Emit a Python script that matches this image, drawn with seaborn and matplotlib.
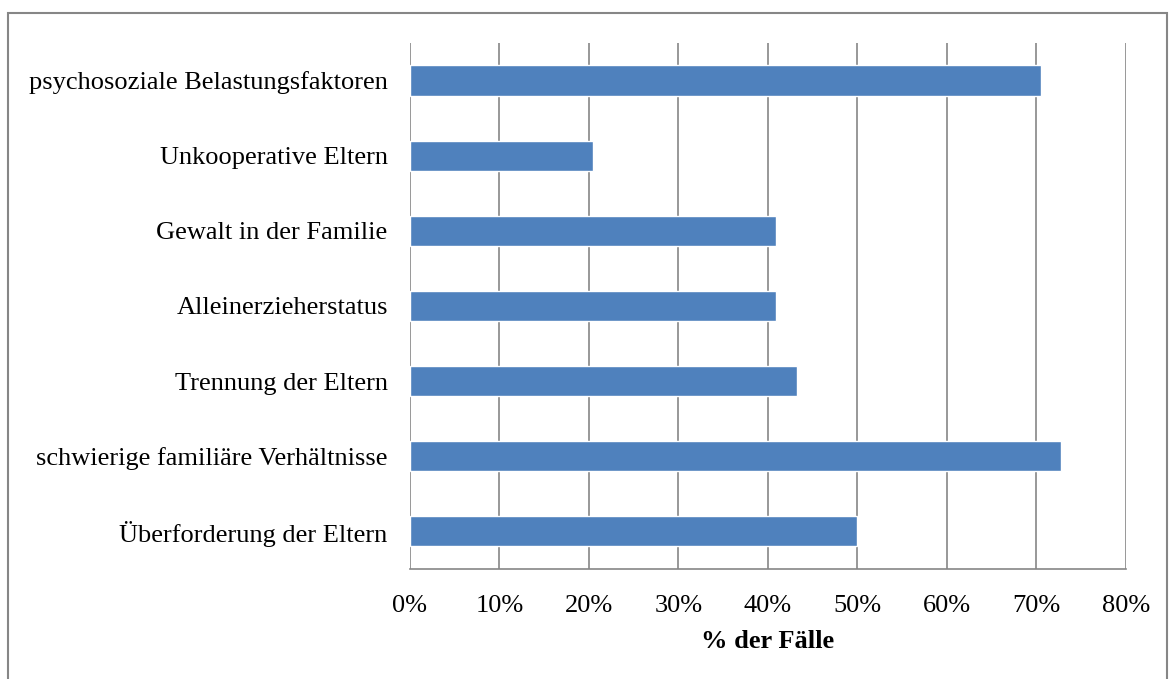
import matplotlib
matplotlib.use("Agg")
import matplotlib.pyplot as plt
import seaborn as sns
import pandas as pd
from matplotlib.patches import Rectangle
from matplotlib.ticker import PercentFormatter

categories = [
    "psychosoziale Belastungsfaktoren",
    "Unkooperative Eltern",
    "Gewalt in der Familie",
    "Alleinerzieherstatus",
    "Trennung der Eltern",
    "schwierige familiäre Verhältnisse",
    "Überforderung der Eltern",
]
percent = [70.45, 20.45, 40.9, 40.9, 43.2, 72.7, 50.0]

df = pd.DataFrame({"Kategorie": categories, "Anteil": percent})

sns.set_theme(style="white")
plt.rcParams["font.family"] = ["Liberation Serif", "DejaVu Serif"]

fig = plt.figure(figsize=(11.69, 6.79), dpi=100)
ax = fig.add_axes([0.3507, 0.162, 0.6125, 0.7748])

sns.barplot(data=df, x="Anteil", y="Kategorie", color="#4F81BD",
            saturation=1, width=0.4, ax=ax)

ax.set_xlim(0, 80)
ax.set_xticks(range(0, 81, 10))
ax.xaxis.set_major_formatter(PercentFormatter(decimals=0))
ax.grid(axis="x", color="#868686", linewidth=1.2)
ax.set_axisbelow(True)
for side in ["top", "right", "left"]:
    ax.spines[side].set_visible(False)
ax.spines["bottom"].set_color("#868686")
ax.spines["bottom"].set_linewidth(1.2)
ax.tick_params(axis="both", length=0, labelsize=19, colors="black")
ax.tick_params(axis="x", pad=19)
ax.tick_params(axis="y", pad=16)
ax.set_ylabel("")
ax.set_xlabel("% der Fälle", fontsize=19, fontweight="bold", labelpad=9,
              color="black")

fig.patches.append(Rectangle((8 / 1169, -0.05), 1159 / 1169, 1 - 13 / 679 + 0.05,
                             transform=fig.transFigure, fill=False,
                             edgecolor="#868686", linewidth=1.5))

fig.savefig("out.png", dpi=100)
